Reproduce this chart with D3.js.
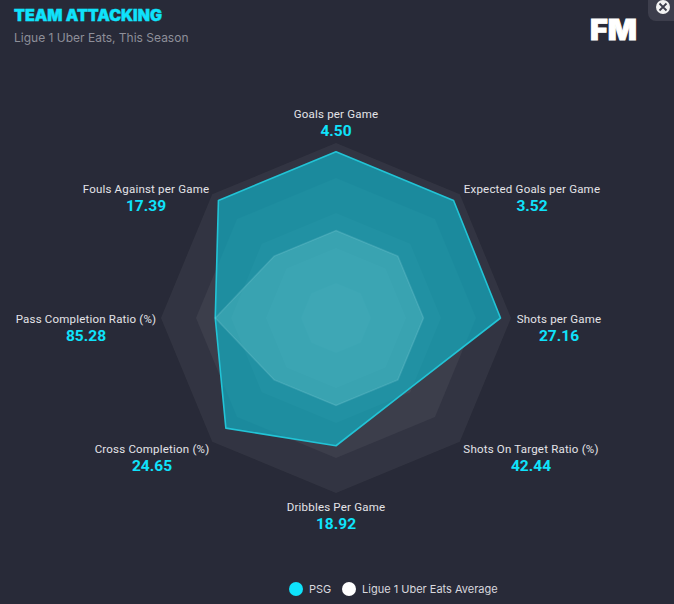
<!DOCTYPE html>
<html>
<head>
<meta charset="utf-8">
<script src="https://cdnjs.cloudflare.com/ajax/libs/d3/7.8.5/d3.min.js"></script>
<style>
  html, body { margin: 0; padding: 0; background: #282a38; overflow: hidden; }
  svg { display: block; font-family: Roboto, sans-serif; }
</style>
</head>
<body>
<svg width="674" height="604"></svg>
<script>
// stats, clockwise from the top
const categories = ["Goals per Game", "Expected Goals per Game", "Shots per Game", "Shots On Target Ratio (%)",
  "Dribbles Per Game", "Cross Completion (%)", "Pass Completion Ratio (%)", "Fouls Against per Game"];
const valueLabels = ["4.50", "3.52", "27.16", "42.44", "18.92", "24.65", "85.28", "17.39"];
// how far along each spoke, in percent
const psgValues = [95, 95, 94, 58, 73, 89, 69, 95];
const avgValues = [50, 50, 50, 50, 50, 50, 69, 50];
const ringLevels = [100, 80, 60, 40, 20];

const cx = 336, cy = 318;
const r = d3.scaleLinear().domain([0, 100]).range([0, 175]);
const angle = d3.scalePoint().domain(d3.range(categories.length)).range([0, Math.PI * 2 * 7 / 8]);

// label centres relative to the middle of the chart
const labelOffsets = [[0, -200], [196, -125], [223, 5], [195, 135], [0, 193], [-184, 135], [-250, 5], [-190, -125]];

const svg = d3.select("svg");

const radial = d3.lineRadial()
  .angle((d, i) => angle(i))
  .radius(d => r(d))
  .curve(d3.curveLinearClosed);

const chart = svg.append("g").attr("transform", `translate(${cx},${cy})`);

// background rings, they stack up so the middle gets lighter
chart.selectAll(".ring")
  .data(ringLevels)
  .join("path")
  .attr("class", "ring")
  .attr("d", d => radial(categories.map(() => d)))
  .attr("fill", "#ffffff")
  .attr("fill-opacity", 0.05);

chart.append("path")
  .attr("d", radial(psgValues))
  .attr("fill", "#10b4c8")
  .attr("fill-opacity", 0.68)
  .attr("stroke", "#22c4d6")
  .attr("stroke-width", 1.6)
  .attr("stroke-linejoin", "round");

chart.append("path")
  .attr("d", radial(avgValues))
  .attr("fill", "#b1fffa")
  .attr("fill-opacity", 0.17)
  .attr("stroke", "#c8fafc")
  .attr("stroke-opacity", 0.14)
  .attr("stroke-width", 1.5);

// labels
const labels = svg.append("g").selectAll("g")
  .data(categories)
  .join("g")
  .attr("transform", (d, i) => `translate(${cx + labelOffsets[i][0]},${cy + labelOffsets[i][1]})`)
  .attr("text-anchor", "middle");

labels.append("text")
  .text(d => d)
  .attr("font-size", 11.5)
  .attr("letter-spacing", 0.2)
  .attr("fill", "#e4e4e8");

labels.append("text")
  .text((d, i) => valueLabels[i])
  .attr("y", 18)
  .attr("font-size", 15.5)
  .attr("font-weight", 700)
  .attr("fill", "#0fe2fb");

// header
svg.append("text")
  .text("TEAM ATTACKING")
  .attr("x", 14).attr("y", 21)
  .style("font-family", "Inter, sans-serif")
  .style("font-size", "15.5px")
  .style("font-weight", 900)
  .attr("textLength", 148)
  .attr("lengthAdjust", "spacingAndGlyphs")
  .attr("stroke", "#0fe2fb")
  .attr("stroke-width", 0.4)
  .attr("fill", "#0fe2fb");

svg.append("text")
  .text("Ligue 1 Uber Eats, This Season")
  .attr("x", 14).attr("y", 42)
  .style("font-family", "Inter, sans-serif")
  .style("font-size", "12px")
  .attr("fill", "#8e8f99");

// logo
svg.append("text")
  .text("FM")
  .attr("x", 590).attr("y", 40)
  .style("font-family", "Inter, sans-serif")
  .style("font-size", "28px")
  .style("font-weight", 900)
  .attr("textLength", 47)
  .attr("lengthAdjust", "spacingAndGlyphs")
  .attr("stroke", "#ffffff")
  .attr("stroke-width", 0.8)
  .attr("fill", "#ffffff");

// close button
svg.append("path")
  .attr("d", "M648,0H674V21H656a8,8 0 0 1 -8,-8Z")
  .attr("fill", "#3d3e4c");
svg.append("circle")
  .attr("cx", 663).attr("cy", 7).attr("r", 7)
  .attr("fill", "#f2f2f2");
svg.append("path")
  .attr("d", "M659.5,3.5L666.5,10.5M666.5,3.5L659.5,10.5")
  .attr("stroke", "#3d3e4c")
  .attr("stroke-width", 1.8);

// legend
const legendNames = ["PSG", "Ligue 1 Uber Eats Average"];
const legendColors = ["#0fe2fb", "#ffffff"];
const legendX = [296, 349];

const legend = svg.append("g").selectAll("g")
  .data(legendNames)
  .join("g")
  .attr("transform", (d, i) => `translate(${legendX[i]},589)`);

legend.append("circle")
  .attr("r", 7)
  .attr("fill", (d, i) => legendColors[i]);

legend.append("text")
  .text(d => d)
  .attr("x", 13).attr("y", 4)
  .style("font-family", "Inter, sans-serif")
  .style("font-size", "11px")
  .attr("fill", "#d8d8de");
</script>
</body>
</html>
